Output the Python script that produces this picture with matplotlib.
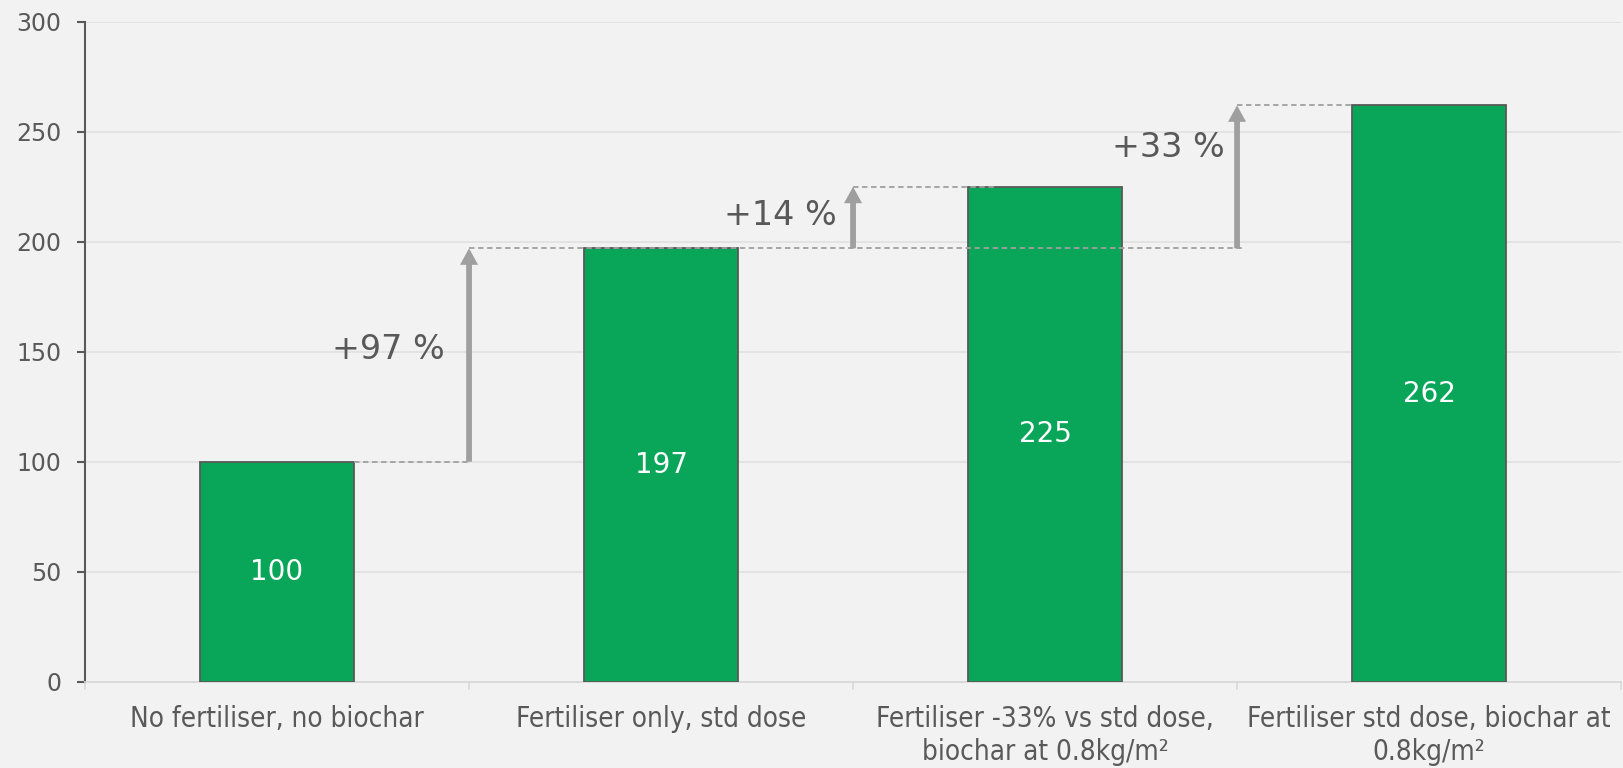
import matplotlib.pyplot as plt

# data
categories = ["No fertiliser, no biochar",
              "Fertiliser only, std dose",
              "Fertiliser -33% vs std dose,\nbiochar at 0.8kg/m²",
              "Fertiliser std dose, biochar at\n0.8kg/m²"]
values = [100, 197, 225, 262]
# (from value, to value, arrow x position, label)
steps = [(100, 197, 0.5, "+97 %"),
         (197, 225, 1.5, "+14 %"),
         (197, 262, 2.5, "+33 %")]
step_label_pos = [(0.29, 151), (1.31, 212), (2.32, 243)]

bg = "#f2f2f2"
green = "#09a659"
dark = "#595959"
arrow_grey = "#9f9f9f"

fig = plt.figure(figsize=(16.23, 7.68), dpi=100, facecolor=bg)
ax = fig.add_axes([0.0524, 0.1124, 0.9464, 0.8593], facecolor=bg)

x = list(range(len(values)))
ax.bar(x, values, width=0.4, color=green, edgecolor=dark, linewidth=1.3, zorder=3)

for xi, v in zip(x, values):
    ax.text(xi, v / 2, str(v), ha="center", va="center", color="white",
            fontsize=20, zorder=5)

# dashed connector lines
dash = dict(color="#a0a0a0", lw=1.3, ls=(0, (3, 2)), zorder=4)
ax.plot([0.2, 0.5], [values[0], values[0]], **dash)
ax.plot([0.5, 2.52], [values[1], values[1]], **dash)
ax.plot([1.5, 1.875], [values[2], values[2]], **dash)
ax.plot([2.5, 2.8], [values[3], values[3]], **dash)

# arrows: x-units for widths, y-units for head length (vertical arrows)
for (y0, y1, xa, lab), (tx, ty) in zip(steps, step_label_pos):
    ax.arrow(xa, y0, 0, y1 - y0, width=0.015, head_width=0.047,
             head_length=7.5, length_includes_head=True,
             color=arrow_grey, lw=0, zorder=4)
    ax.text(tx, ty, lab, ha="center", va="center", color=dark, fontsize=24)

ax.set_xlim(-0.5, 3.5)
ax.set_ylim(0, 300)
ax.set_yticks(range(0, 301, 50))
ax.yaxis.grid(True, color="#e2e2e2", lw=1.3, zorder=0)
ax.set_axisbelow(True)

ax.set_xticks(x)
ax.set_xticklabels(categories, fontsize=20, color=dark, fontstretch="condensed",
                   linespacing=1.2)
ax.set_xticks([-0.5, 0.5, 1.5, 2.5, 3.5], minor=True)
ax.tick_params(axis="x", which="major", length=0, pad=17)
ax.tick_params(axis="x", which="minor", length=6, color="#d9d9d9", width=1.2)
ax.tick_params(axis="y", length=6, color=dark, width=1.5, labelsize=17,
               labelcolor=dark, pad=11)

for s in ["top", "right"]:
    ax.spines[s].set_visible(False)
ax.spines["left"].set_color(dark)
ax.spines["left"].set_linewidth(1.5)
ax.spines["bottom"].set_color("#d9d9d9")
ax.spines["bottom"].set_linewidth(1.3)

fig.savefig("out.png", dpi=100, facecolor=bg)
